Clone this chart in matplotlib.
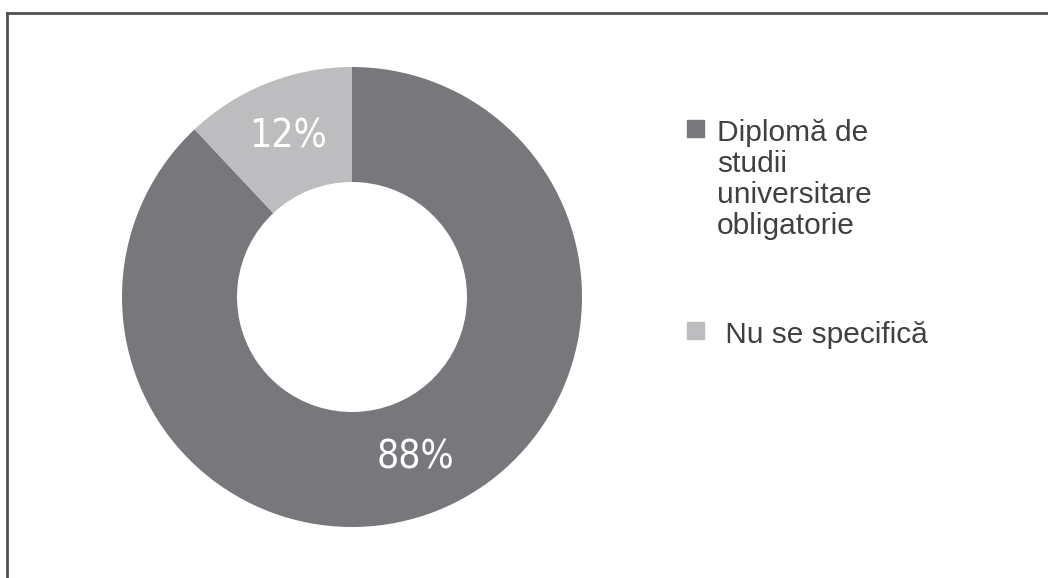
import matplotlib
matplotlib.use("Agg")
import matplotlib.pyplot as plt
from matplotlib.lines import Line2D
from matplotlib.patches import Rectangle

# share of job ads by education requirement
categories = ["Diplomă de\nstudii\nuniversitare\nobligatorie", " Nu se specifică"]
shares = [88, 12]
colors = ["#78787c", "#bdbdc0"]

W, H = 1048, 578
fig = plt.figure(figsize=(W / 100, H / 100), dpi=100)
fig.patch.set_facecolor("white")

# donut: centre (352, 297) px, outer radius 230 px
cx, cy, r = 352, 297, 230
ax = fig.add_axes([(cx - r) / W, (H - cy - r) / H, 2 * r / W, 2 * r / H])
wedges, texts, autotexts = ax.pie(
    shares, colors=colors, startangle=90, counterclock=False,
    wedgeprops=dict(width=0.5, linewidth=0),
    autopct="%d%%", pctdistance=0.75,
    textprops=dict(color="white", fontsize=28, family="DejaVu Sans",
                   fontstretch="condensed"),
)
ax.set_xlim(-1, 1)
ax.set_ylim(-1, 1)
ax.set_aspect("equal")
ax.axis("off")

# legend drawn by hand
leg_y = [120, 322]
for lab, col, y in zip(categories, colors, leg_y):
    fig.patches.append(Rectangle((687 / W, 1 - (y + 17) / H), 17 / W, 17 / H,
                                 transform=fig.transFigure, color=col))
    fig.text(717 / W, 1 - (y - 1) / H, lab, ha="left", va="top", fontsize=21.5,
             color="#404040", family="Liberation Sans", linespacing=1.13)

# frame on top and left
fig.lines.append(Line2D([7 / W, 1], [1 - 13 / H, 1 - 13 / H], transform=fig.transFigure,
                        color="#505050", linewidth=2))
fig.lines.append(Line2D([7 / W, 7 / W], [0, 1 - 13 / H], transform=fig.transFigure,
                        color="#505050", linewidth=2))

fig.savefig("out.png", dpi=100)
